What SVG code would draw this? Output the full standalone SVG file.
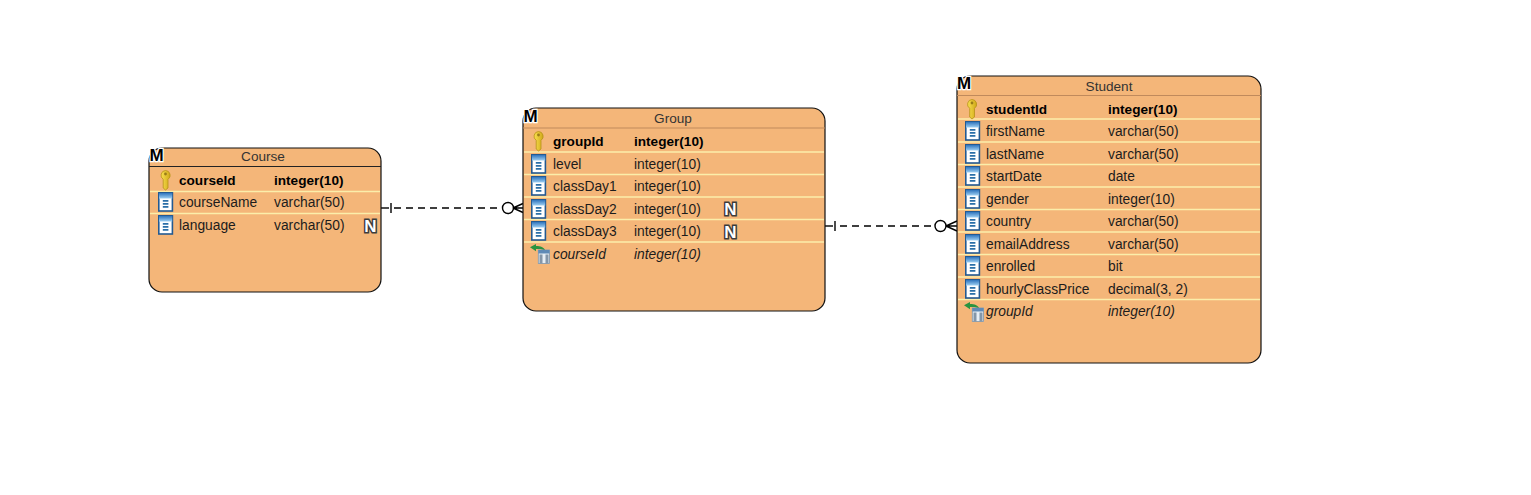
<svg xmlns="http://www.w3.org/2000/svg" width="1531" height="495" viewBox="0 0 1531 495">
<style>
text{font-family:"Liberation Sans",Arial,sans-serif;font-size:13.8px;fill:#1c1c1c}
.box{fill:#f4b679;stroke:#111;stroke-width:1.2}
.hd{stroke:#c08a5c;stroke-width:1}
.sep{stroke:#fbeeaa;stroke-width:1.4}
.t{text-anchor:middle;fill:#333;font-size:13.6px}
.b{font-weight:bold;fill:#000;font-size:13.6px}
.i{font-style:italic}
.m{font-weight:bold;font-size:17px;fill:#000;stroke:#fff;stroke-width:2.4;paint-order:stroke;text-anchor:middle}
.n{font-weight:bold;font-size:17px;fill:#fff;stroke:#3c3c3c;stroke-width:3;paint-order:stroke;text-anchor:middle}
.c{fill:none;stroke:#000;stroke-width:1.4}
.d{stroke-dasharray:7 5}
</style>
<defs>
<linearGradient id="bl" x1="0" y1="0" x2="0" y2="1"><stop offset="0" stop-color="#2f74bd"/><stop offset="1" stop-color="#9fd0f2"/></linearGradient>
<linearGradient id="au" x1="0" y1="0" x2="1" y2="0"><stop offset="0" stop-color="#f9e050"/><stop offset="1" stop-color="#d0a818"/></linearGradient>
<symbol id="col" width="16" height="20" viewBox="0 0 16 20" overflow="visible">
<rect x="0.8" y="0.8" width="13.6" height="18.2" fill="#fff" stroke="#235a92" stroke-width="1.6"/>
<rect x="1" y="1" width="13.2" height="5.500" fill="url(#bl)"/>
<path d="M4.800 8.800h5.600M4.800 11.800h5.600M4.800 14.800h5.600" stroke="#2a6fa8" stroke-width="1.7"/>
</symbol>
<symbol id="key" width="12" height="20" viewBox="0 0 12 20" overflow="visible">
<path d="M6 0.500a4.800 4.800 0 0 1 2.500 8.800V18L6 20 3.700 18V9.300A4.800 4.800 0 0 1 6 0.500z" fill="url(#au)" stroke="#b8921a" stroke-width="0.8"/>
<circle cx="6" cy="4" r="1.400" fill="#9a7c18"/>
</symbol>
<symbol id="fk" width="20" height="20" viewBox="0 0 20 20" overflow="visible">
<path d="M0 3.200 6 0v2c4.500 0 8 1.200 9.500 4.800-2.800-1.800-5.500-2-9.500-1.800v2.200z" fill="#2a9440"/>
<rect x="8.300" y="6" width="11.200" height="13.500" fill="#e6eef5" stroke="#7d97ae" stroke-width="0.8"/>
<rect x="8.300" y="6" width="11.200" height="3.500" fill="#5f8ab6"/>
<path d="M9.500 10.500h3v9h-3zM15.500 10.500h3v9h-3z" fill="#8496a8"/>
</symbol>
</defs>

<g id="connectors">
<path class="c" d="M381 208h8"/><path class="c" d="M391 203v10"/>
<path class="c d" d="M394 208h108"/>
<circle class="c" cx="508" cy="208" r="5.500"/>
<path class="c" d="M513 208h10M513 208l10-4.500M513 208l10 4.500"/>
<path class="c" d="M825 226h8"/><path class="c" d="M835 221v10"/>
<path class="c d" d="M840 226h95"/>
<circle class="c" cx="940.500" cy="226" r="5.500"/>
<path class="c" d="M946 226h11M946 226l11-5M946 226l11 5"/>
</g>

<g id="course">
<rect class="box" x="149" y="148" width="232" height="144" rx="13"/>
<path d="M149 166.500h232" stroke="#222" stroke-width="1.100"/>
<path class="sep" d="M150 191.500h230M150 213.500h230"/>
<text class="m" x="156.500" y="161">M</text>
<text class="t" x="263" y="161">Course</text>
<use href="#key" x="159.500" y="170"/>
<use href="#col" x="158" y="192"/>
<use href="#col" x="158" y="215"/>
<text class="b" x="179" y="185">courseId</text><text class="b" x="274" y="185">integer(10)</text>
<text x="179" y="207">courseName</text><text x="274" y="207">varchar(50)</text>
<text x="179" y="230">language</text><text x="274" y="230">varchar(50)</text>
<text class="n" x="370.500" y="232">N</text>
</g>

<g id="group">
<rect class="box" x="523" y="108" width="302" height="203" rx="13"/>
<path class="hd" d="M523 128h302"/>
<path class="sep" d="M524 152h300M524 174.500h300M524 197h300M524 219.500h300M524 242h300"/>
<text class="m" x="530.500" y="122">M</text>
<text class="t" x="673" y="123">Group</text>
<use href="#key" x="532.500" y="131"/>
<use href="#col" x="531" y="154"/>
<use href="#col" x="531" y="176"/>
<use href="#col" x="531" y="199"/>
<use href="#col" x="531" y="221"/>
<use href="#fk" x="530" y="244"/>
<text class="b" x="553" y="146">groupId</text><text class="b" x="634" y="146">integer(10)</text>
<text x="553" y="169">level</text><text x="634" y="169">integer(10)</text>
<text x="553" y="191">classDay1</text><text x="634" y="191">integer(10)</text>
<text x="553" y="214">classDay2</text><text x="634" y="214">integer(10)</text>
<text x="553" y="236">classDay3</text><text x="634" y="236">integer(10)</text>
<text class="i" x="553" y="259">courseId</text><text class="i" x="634" y="259">integer(10)</text>
<text class="n" x="730.500" y="214.500">N</text>
<text class="n" x="730.500" y="237.500">N</text>
</g>

<g id="student">
<rect class="box" x="957" y="76" width="304" height="287" rx="13"/>
<path class="hd" d="M957 95.500h304"/>
<path class="sep" d="M958 119h302M958 142h302M958 164.500h302M958 187h302M958 209.500h302M958 232h302M958 254.500h302M958 277h302M958 299.500h302"/>
<text class="m" x="964" y="89">M</text>
<text class="t" x="1109" y="91">Student</text>
<use href="#key" x="966" y="99"/>
<use href="#col" x="965" y="121"/>
<use href="#col" x="965" y="144"/>
<use href="#col" x="965" y="166"/>
<use href="#col" x="965" y="189"/>
<use href="#col" x="965" y="211"/>
<use href="#col" x="965" y="234"/>
<use href="#col" x="965" y="256"/>
<use href="#col" x="965" y="279"/>
<use href="#fk" x="964" y="302"/>
<text class="b" x="986" y="114">studentId</text><text class="b" x="1108" y="114">integer(10)</text>
<text x="986" y="136">firstName</text><text x="1108" y="136">varchar(50)</text>
<text x="986" y="159">lastName</text><text x="1108" y="159">varchar(50)</text>
<text x="986" y="181">startDate</text><text x="1108" y="181">date</text>
<text x="986" y="204">gender</text><text x="1108" y="204">integer(10)</text>
<text x="986" y="226">country</text><text x="1108" y="226">varchar(50)</text>
<text x="986" y="249">emailAddress</text><text x="1108" y="249">varchar(50)</text>
<text x="986" y="271">enrolled</text><text x="1108" y="271">bit</text>
<text x="986" y="294">hourlyClassPrice</text><text x="1108" y="294">decimal(3, 2)</text>
<text class="i" x="986" y="316">groupId</text><text class="i" x="1108" y="316">integer(10)</text>
</g>
</svg>
